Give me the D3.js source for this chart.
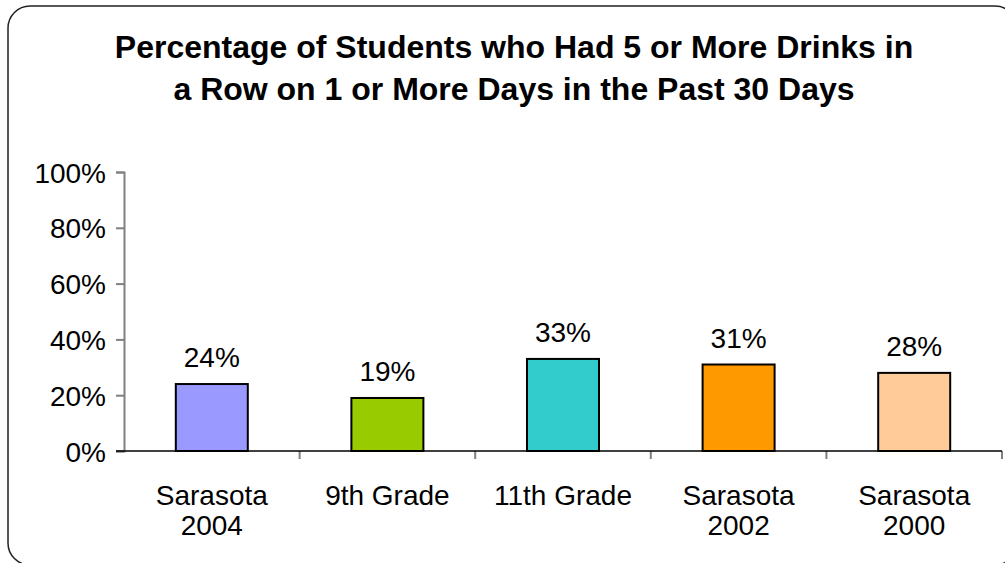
<!DOCTYPE html>
<html>
<head>
<meta charset="utf-8">
<script src="https://cdn.jsdelivr.net/npm/d3@7"></script>
<style>
  body { margin: 0; background: #fff; }
  text { font-family: "Liberation Sans", Arial, sans-serif; }
</style>
</head>
<body>
<svg id="chart" width="1005" height="563"></svg>
<script>
// data
const categories = [["Sarasota", "2004"], ["9th Grade"], ["11th Grade"], ["Sarasota", "2002"], ["Sarasota", "2000"]];
const values = [24, 19, 33, 31, 28];
const colors = ["#9999FF", "#99CC00", "#33CCCC", "#FF9900", "#FFCC99"];
const yTicks = [0, 20, 40, 60, 80, 100];
const titleLines = ["Percentage of Students who Had 5 or More Drinks in", "a Row on 1 or More Days in the Past 30 Days"];

const svg = d3.select("#chart");
const margin = {left: 124, right: 3, top: 172, bottom: 112};
const width = 1005, height = 563;
const fs = 28;

// rounded frame
svg.append("rect")
  .attr("x", 8).attr("y", 6)
  .attr("width", 1009).attr("height", 559)
  .attr("rx", 22).attr("ry", 22)
  .attr("fill", "#fff")
  .attr("stroke", "#222")
  .attr("stroke-width", 1.5);

// title
svg.append("g").selectAll("text")
  .data(titleLines)
  .join("text")
    .attr("x", 514)
    .attr("y", (d, i) => 58 + i * 42)
    .attr("text-anchor", "middle")
    .attr("font-size", 32)
    .attr("font-weight", "bold")
    .text(d => d);

const x = d3.scaleBand()
  .domain(d3.range(values.length))
  .range([margin.left, width - margin.right])
  .paddingInner(0.59)
  .paddingOuter(0.295);

const y = d3.scaleLinear()
  .domain([0, 100])
  .range([height - margin.bottom, margin.top]);

// y axis
const yAxis = svg.append("g")
  .attr("transform", `translate(${margin.left},0)`)
  .call(d3.axisLeft(y).tickValues(yTicks).tickSize(8).tickPadding(10).tickFormat(d => d + "%"));
yAxis.select(".domain").attr("stroke", "#808080").attr("stroke-width", 2);
yAxis.selectAll(".tick line").attr("stroke", "#808080").attr("stroke-width", 2);
yAxis.selectAll("text").attr("font-size", fs).attr("fill", "#000")
  .attr("font-family", "Liberation Sans, Arial, sans-serif").attr("dy", "0.36em");

// bars
svg.append("g").selectAll("rect")
  .data(values)
  .join("rect")
    .attr("x", (d, i) => x(i))
    .attr("y", d => y(d))
    .attr("width", x.bandwidth())
    .attr("height", d => y(0) - y(d))
    .attr("fill", (d, i) => colors[i])
    .attr("stroke", "#000")
    .attr("stroke-width", 2);

// x axis
const step = x.step();
const boundaries = d3.range(values.length + 1).map(i => margin.left + i * step);
svg.append("g").selectAll("line")
  .data(boundaries.slice(1))
  .join("line")
    .attr("x1", d => d).attr("x2", d => d)
    .attr("y1", y(0)).attr("y2", y(0) + 8)
    .attr("stroke", "#808080")
    .attr("stroke-width", 2);
svg.append("line")
  .attr("x1", margin.left - 8).attr("x2", width - margin.right)
  .attr("y1", y(0)).attr("y2", y(0))
  .attr("stroke", "#000")
  .attr("stroke-width", 1.5);

// value labels
svg.append("g").selectAll("text")
  .data(values)
  .join("text")
    .attr("x", (d, i) => x(i) + x.bandwidth() / 2)
    .attr("y", d => y(d) - 17)
    .attr("text-anchor", "middle")
    .attr("font-size", fs)
    .text(d => d + "%");

// category labels
const cat = svg.append("g").selectAll("text")
  .data(categories)
  .join("text")
    .attr("x", (d, i) => x(i) + x.bandwidth() / 2)
    .attr("y", 505)
    .attr("text-anchor", "middle")
    .attr("font-size", fs);
cat.selectAll("tspan")
  .data((d, i) => d.map(t => ({t, cx: x(i) + x.bandwidth() / 2})))
  .join("tspan")
    .attr("x", d => d.cx)
    .attr("dy", (d, j) => j === 0 ? 0 : 30)
    .text(d => d.t);
</script>
</body>
</html>
